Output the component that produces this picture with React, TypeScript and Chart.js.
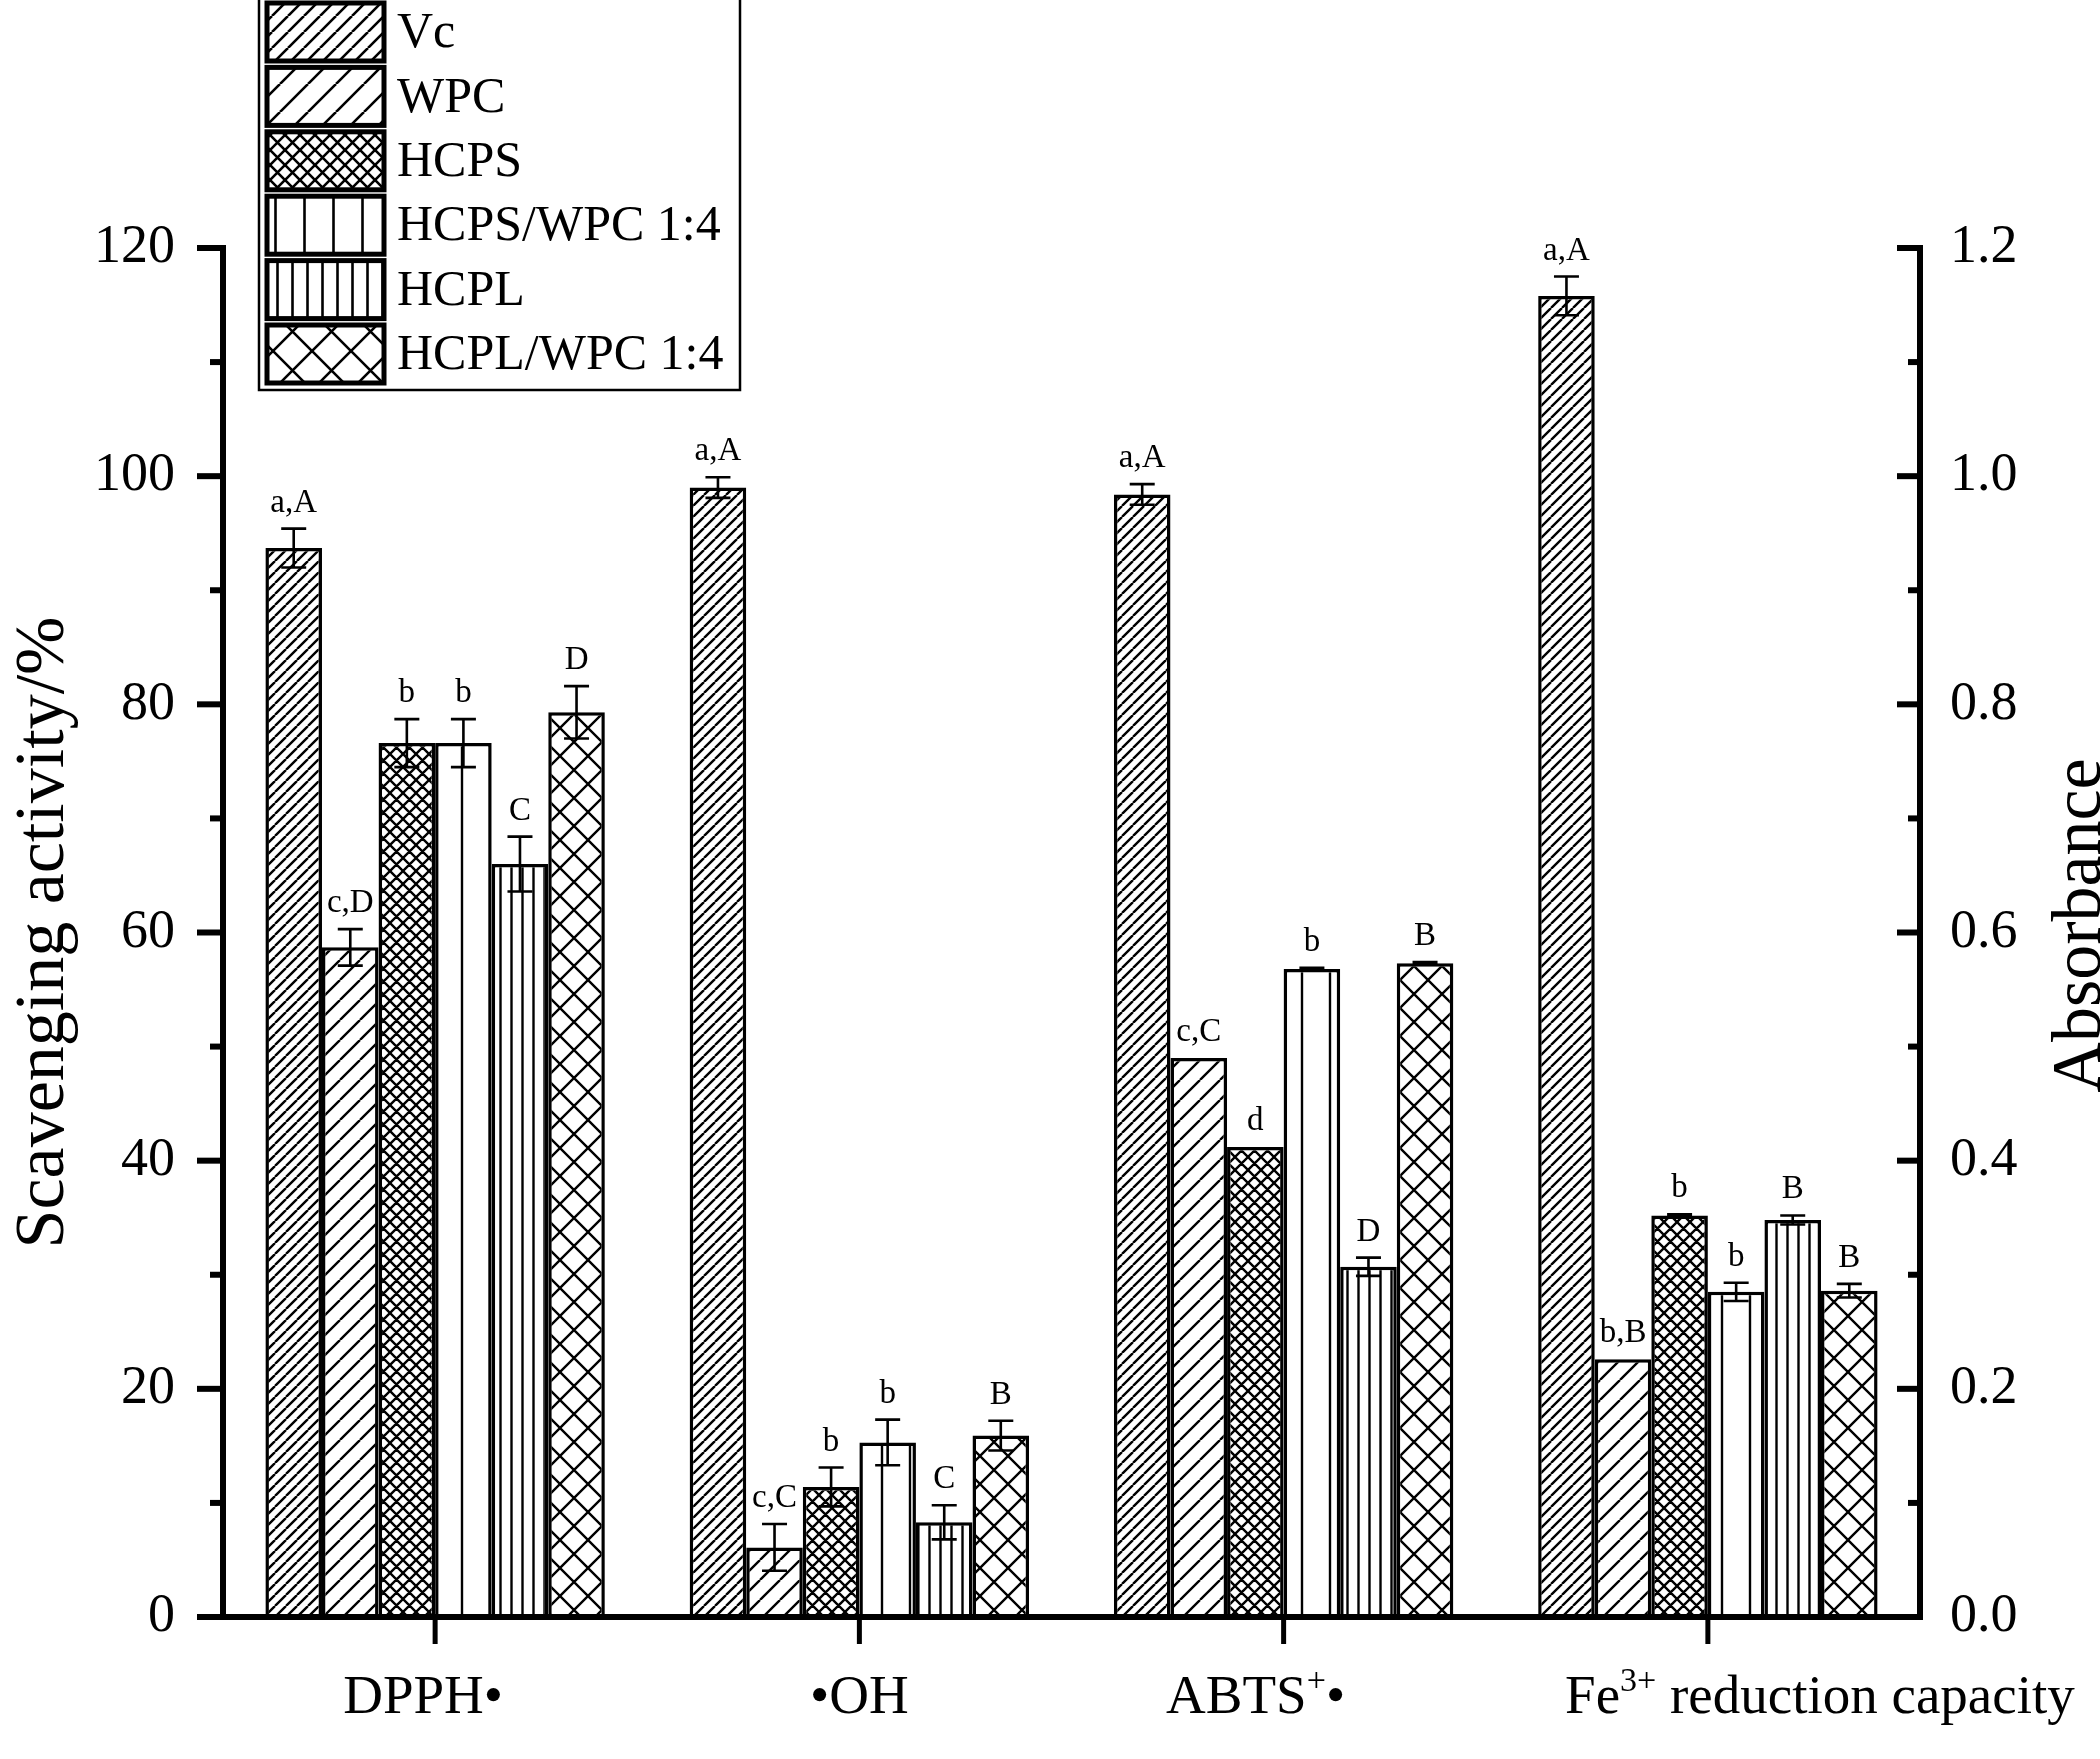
import React, { useEffect, useRef } from "react";
import { Chart, registerables } from "chart.js";

Chart.register(...registerables);

// ---------------- data ----------------
const categories = ["DPPH•", "•OH", "ABTS⁺•", "Fe³⁺ reduction capacity"];
const seriesNames = ["Vc", "WPC", "HCPS", "HCPS/WPC 1:4", "HCPL", "HCPL/WPC 1:4"];

// scavenging activity (%) – left axis
const dpphValues = [93.7, 58.7, 76.6, 76.6, 66.0, 79.3];
const dpphErrors = [1.7, 1.6, 2.1, 2.1, 2.4, 2.3];
const ohValues = [99.0, 6.1, 11.4, 15.3, 8.3, 15.9];
const ohErrors = [0.9, 2.05, 1.7, 2.0, 1.5, 1.3];
const abtsValues = [98.4, 49.0, 41.2, 56.8, 30.7, 57.3];
const abtsErrors = [0.9, 0, 0, 0.1, 0.8, 0.1];

// absorbance – right axis
const feValues = [1.158, 0.226, 0.352, 0.285, 0.348, 0.286];
const feErrors = [0.017, 0, 0.001, 0.008, 0.004, 0.006];

// significance letters
const dpphLetters = ["a,A", "c,D", "b", "b", "C", "D"];
const ohLetters = ["a,A", "c,C", "b", "b", "C", "B"];
const abtsLetters = ["a,A", "c,C", "d", "b", "D", "B"];
const feLetters = ["a,A", "b,B", "b", "b", "B", "B"];

const leftTickMax = 120;
const leftTickStep = 20;
const rightTickMax = 1.2;
const rightTickStep = 0.2;

const yTitleLeft = "Scavenging activity/%";
const yTitleRight = "Absorbance";

// ---------------- styling ----------------
const FONT = '"Liberation Serif", "Times New Roman", serif';
// pattern kinds per series: [kind, bar tile size, legend tile size]
const patternSpec: [string, number, number][] = [
  ["diag", 11, 16],
  ["diag", 20, 28],
  ["cross", 12.5, 15],
  ["vert", 28, 29],
  ["vert", 11, 15],
  ["cross", 28, 39],
];
const labelOffsets = [-12, 0, -28, 112];

function makePattern(ctx: CanvasRenderingContext2D, kind: string, s: number, lw: number) {
  const size = Math.round(s);
  const c = document.createElement("canvas");
  c.width = size;
  c.height = size;
  const g = c.getContext("2d")!;
  g.fillStyle = "#fff";
  g.fillRect(0, 0, size, size);
  g.strokeStyle = "#000";
  g.lineWidth = lw;
  g.beginPath();
  if (kind === "diag" || kind === "cross") {
    for (const k of [-1, 0, 1]) {
      g.moveTo(k * size, size);
      g.lineTo(k * size + size, 0);
    }
  }
  if (kind === "cross") {
    for (const k of [-1, 0, 1]) {
      g.moveTo(k * size, 0);
      g.lineTo(k * size + size, size);
    }
  }
  if (kind === "vert") {
    g.moveTo(size / 2, 0);
    g.lineTo(size / 2, size);
  }
  g.stroke();
  return ctx.createPattern(c, "repeat");
}

function drawRich(ctx: CanvasRenderingContext2D, text: string, cx: number, baseline: number, size: number) {
  const supMap: Record<string, string> = { "⁺": "+", "³": "3" };
  const segs: { t: string; sup: boolean }[] = [];
  for (const ch of Array.from(text)) {
    const sup = ch in supMap;
    const c = sup ? supMap[ch] : ch;
    const last = segs[segs.length - 1];
    if (last && last.sup === sup) last.t += c;
    else segs.push({ t: c, sup });
  }
  const supSize = size * 0.62;
  let total = 0;
  const widths = segs.map((s) => {
    ctx.font = `${s.sup ? supSize : size}px ${FONT}`;
    const w = ctx.measureText(s.t).width;
    total += w;
    return w;
  });
  let x = cx - total / 2;
  ctx.textAlign = "left";
  ctx.textBaseline = "alphabetic";
  segs.forEach((s, i) => {
    ctx.font = `${s.sup ? supSize : size}px ${FONT}`;
    ctx.fillText(s.t, x, s.sup ? baseline - size * 0.4 : baseline);
    x += widths[i];
  });
}

const decorPlugin = {
  id: "decor",
  afterDatasetsDraw(chart: any) {
    const ctx: CanvasRenderingContext2D = chart.ctx;
    const { left, right, top, bottom } = chart.chartArea;
    ctx.save();
    ctx.fillStyle = "#000";
    ctx.strokeStyle = "#000";

    // error bars and letters
    chart.data.datasets.forEach((ds: any, i: number) => {
      const meta = chart.getDatasetMeta(i);
      const ys = chart.scales[ds.yAxisID];
      ds.data.forEach((v: number | null, j: number) => {
        if (v === null || v === undefined) return;
        const bar = meta.data[j];
        const e = ds.errors[j] || 0;
        const xp = bar.x;
        const yt = ys.getPixelForValue(v + e);
        const yb = ys.getPixelForValue(v - e);
        if (e > 0) {
          ctx.lineWidth = 2.6;
          ctx.beginPath();
          ctx.moveTo(xp, yt);
          ctx.lineTo(xp, yb);
          ctx.moveTo(xp - 12.5, yt);
          ctx.lineTo(xp + 12.5, yt);
          ctx.moveTo(xp - 12.5, yb);
          ctx.lineTo(xp + 12.5, yb);
          ctx.stroke();
        }
        const letter = ds.letters[j];
        if (letter) {
          ctx.font = `33px ${FONT}`;
          ctx.textAlign = "center";
          ctx.textBaseline = "alphabetic";
          ctx.fillText(letter, xp, yt - 17);
        }
      });
    });

    // axes
    const yL = chart.scales.y;
    const yR = chart.scales.y1;
    const xs = chart.scales.x;
    ctx.lineCap = "butt";
    ctx.lineWidth = 6;
    ctx.beginPath();
    ctx.moveTo(left, top - 3);
    ctx.lineTo(left, bottom + 3);
    ctx.moveTo(right, top - 3);
    ctx.lineTo(right, bottom + 3);
    ctx.moveTo(left - 26, bottom);
    ctx.lineTo(right + 3, bottom);
    ctx.stroke();

    // left ticks (outward)
    yL.ticks.forEach((t: any) => {
      const y = yL.getPixelForValue(t.value);
      ctx.beginPath();
      ctx.moveTo(left - 26, y);
      ctx.lineTo(left, y);
      ctx.stroke();
    });
    for (let v = leftTickStep / 2; v < leftTickMax; v += leftTickStep) {
      const y = yL.getPixelForValue(v);
      ctx.beginPath();
      ctx.moveTo(left - 13, y);
      ctx.lineTo(left, y);
      ctx.stroke();
    }
    // right ticks (inward)
    yR.ticks.forEach((t: any) => {
      const y = yR.getPixelForValue(t.value);
      ctx.beginPath();
      ctx.moveTo(right - 23, y);
      ctx.lineTo(right, y);
      ctx.stroke();
    });
    for (let v = rightTickStep / 2; v < rightTickMax; v += rightTickStep) {
      const y = yR.getPixelForValue(v);
      ctx.beginPath();
      ctx.moveTo(right - 12, y);
      ctx.lineTo(right, y);
      ctx.stroke();
    }
    // bottom ticks
    ctx.lineWidth = 5;
    categories.forEach((_, i) => {
      const x = xs.getPixelForTick(i);
      ctx.beginPath();
      ctx.moveTo(x, bottom);
      ctx.lineTo(x, bottom + 27);
      ctx.stroke();
    });
    ctx.restore();
  },
  afterDraw(chart: any) {
    const ctx: CanvasRenderingContext2D = chart.ctx;
    const { top, bottom, right } = chart.chartArea;
    const xs = chart.scales.x;
    const pats = chart.$legendPatterns;
    ctx.save();
    ctx.fillStyle = "#000";
    ctx.strokeStyle = "#000";

    // x labels
    categories.forEach((c, i) => {
      drawRich(ctx, c, xs.getPixelForTick(i) + labelOffsets[i], bottom + 96, 55);
    });

    // axis titles
    const midY = (top + bottom) / 2;
    ctx.font = `70px ${FONT}`;
    ctx.textAlign = "center";
    ctx.textBaseline = "alphabetic";
    ctx.save();
    ctx.translate(63, midY);
    ctx.rotate(-Math.PI / 2);
    ctx.fillText(yTitleLeft, 0, 0);
    ctx.restore();
    ctx.save();
    ctx.translate(right + 180, midY - 7);
    ctx.rotate(-Math.PI / 2);
    ctx.fillText(yTitleRight, 0, 0);
    ctx.restore();

    // legend
    ctx.lineWidth = 2.5;
    ctx.strokeRect(259, -10, 481, 400);
    seriesNames.forEach((name, i) => {
      const y = 3 + i * 64.4;
      ctx.fillStyle = pats ? pats[i] : "#fff";
      ctx.fillRect(267, y, 117, 58);
      ctx.lineWidth = 5;
      ctx.strokeRect(267, y, 117, 58);
      ctx.fillStyle = "#000";
      ctx.font = `50px ${FONT}`;
      ctx.textAlign = "left";
      ctx.textBaseline = "middle";
      ctx.fillText(name, 397, y + 31);
    });
    ctx.restore();
  },
};

export default function App() {
  const canvasRef = useRef<HTMLCanvasElement | null>(null);

  useEffect(() => {
    const canvas = canvasRef.current;
    if (!canvas) return;
    const ctx = canvas.getContext("2d")!;
    const barPatterns = patternSpec.map(([k, s]) => makePattern(ctx, k, s, 2.4));
    const legendPatterns = patternSpec.map(([k, , s]) => makePattern(ctx, k, s, 2.6));

    const leftSets = [dpphValues, ohValues, abtsValues];
    const leftErrs = [dpphErrors, ohErrors, abtsErrors];
    const leftLetters = [dpphLetters, ohLetters, abtsLetters];

    const common = {
      borderColor: "#000",
      borderWidth: 3.5,
      borderSkipped: "start",
      skipNull: true,
      barPercentage: 1,
      categoryPercentage: 0.8,
    };

    const datasets: any[] = [];
    seriesNames.forEach((name, i) => {
      datasets.push({
        label: name,
        yAxisID: "y",
        data: [...leftSets.map((a) => a[i]), null],
        errors: [...leftErrs.map((a) => a[i]), null],
        letters: [...leftLetters.map((a) => a[i]), null],
        backgroundColor: barPatterns[i],
        ...common,
      });
    });
    seriesNames.forEach((name, i) => {
      datasets.push({
        label: name + " (absorbance)",
        yAxisID: "y1",
        data: [null, null, null, feValues[i]],
        errors: [null, null, null, feErrors[i]],
        letters: [null, null, null, feLetters[i]],
        backgroundColor: barPatterns[i],
        ...common,
      });
    });

    const chart: any = new Chart(canvas, {
      type: "bar",
      data: { labels: categories, datasets },
      options: {
        animation: false,
        responsive: false,
        devicePixelRatio: 1,
        layout: { padding: { top: 248, left: 0, right: 0, bottom: 0 } },
        plugins: { legend: { display: false }, tooltip: { enabled: false }, title: { display: false } },
        scales: {
          x: {
            type: "category",
            offset: true,
            grid: { display: false, drawTicks: false },
            border: { display: false },
            ticks: { display: false },
            afterFit: (s: any) => {
              s.height = 142;
            },
          },
          y: {
            position: "left",
            min: 0,
            max: leftTickMax,
            grid: { display: false, drawTicks: false },
            border: { display: false },
            ticks: {
              stepSize: leftTickStep,
              padding: 48,
              color: "#000",
              font: { family: FONT, size: 54 },
            },
            afterFit: (s: any) => {
              s.width = 223;
            },
          },
          y1: {
            position: "right",
            min: 0,
            max: rightTickMax,
            grid: { display: false, drawTicks: false },
            border: { display: false },
            ticks: {
              stepSize: rightTickStep,
              padding: 30,
              color: "#000",
              font: { family: FONT, size: 54 },
              callback: (v: any) => Number(v).toFixed(1),
            },
            afterFit: (s: any) => {
              s.width = 180;
            },
          },
        },
      } as any,
      plugins: [decorPlugin as any],
    });
    chart.$legendPatterns = legendPatterns;
    chart.draw();

    return () => chart.destroy();
  }, []);

  return (
    <div style={{ position: "absolute", left: 0, top: 0, width: 2100, height: 1759, background: "#fff" }}>
      <canvas ref={canvasRef} width={2100} height={1759} style={{ width: 2100, height: 1759, display: "block" }} />
    </div>
  );
}
